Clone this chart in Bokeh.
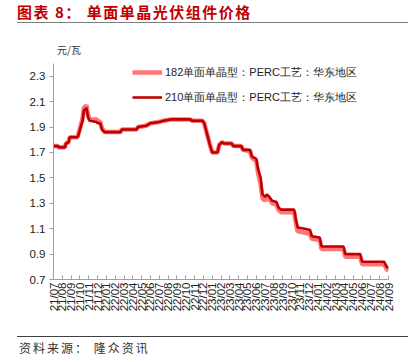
import math
from bokeh.plotting import figure
from bokeh.models import Legend, LegendItem, FixedTicker, Range1d, Div, AllLabels
from bokeh.layouts import column
from bokeh.embed import file_html
from bokeh.resources import INLINE

# month labels (one per month, 2021/07 .. 2024/09)
month_labels = ["21/07", "21/08", "21/09", "21/10", "21/11", "21/12",
                "22/01", "22/02", "22/03", "22/04", "22/05", "22/06",
                "22/07", "22/08", "22/09", "22/10", "22/11", "22/12",
                "23/01", "23/02", "23/03", "23/04", "23/05", "23/06",
                "23/07", "23/08", "23/09", "23/10", "23/11", "23/12",
                "24/01", "24/02", "24/03", "24/04", "24/05", "24/06",
                "24/07", "24/08", "24/09"]

# digitised observation positions (in months since 2021/07) and prices (元/瓦)
x_210 = [0, 0.5, 0.6, 1.3, 1.4, 1.7, 1.85, 2.7, 2.8, 3.0, 3.3, 3.45, 3.75, 3.9,
         4.1, 4.9, 5.0, 5.3, 5.5, 5.8, 7.6, 7.75, 9.4, 9.6, 10.5, 11.0, 12.0,
         12.5, 13.3, 15.5, 15.7, 16.9, 17.1, 17.4, 17.7, 18.0, 18.6, 18.8, 19.1,
         19.4, 20.2, 20.4, 21.3, 21.5, 22.3, 22.5, 23.0, 23.2, 23.5, 23.7, 24.0,
         24.2, 24.5, 24.8, 25.3, 25.5, 25.8, 27.3, 27.5, 27.7, 28.5, 29.1, 29.3,
         30.2, 30.4, 32.9, 33.1, 34.8, 35.0, 37.5, 37.8, 38.0]
y_210 = [1.75, 1.75, 1.74, 1.74, 1.77, 1.78, 1.82, 1.82, 1.83, 1.88, 1.95, 2.03,
         2.05, 1.98, 1.95, 1.94, 1.93, 1.93, 1.88, 1.86, 1.86, 1.88, 1.88, 1.90,
         1.91, 1.93, 1.94, 1.95, 1.96, 1.96, 1.95, 1.95, 1.93, 1.85, 1.77, 1.70,
         1.70, 1.76, 1.78, 1.77, 1.77, 1.75, 1.75, 1.72, 1.72, 1.67, 1.65, 1.57,
         1.50, 1.37, 1.35, 1.37, 1.35, 1.32, 1.31, 1.27, 1.25, 1.25, 1.17, 1.11,
         1.10, 1.09, 1.04, 1.03, 0.96, 0.96, 0.90, 0.90, 0.84, 0.84, 0.80, 0.79]

x_182 = x_210
y_182 = [1.75, 1.75, 1.74, 1.74, 1.77, 1.78, 1.82, 1.82, 1.84, 1.89, 1.97, 2.05,
         2.07, 2.00, 1.96, 1.96, 1.95, 1.94, 1.89, 1.86, 1.86, 1.88, 1.88, 1.90,
         1.91, 1.93, 1.94, 1.95, 1.96, 1.96, 1.95, 1.95, 1.93, 1.85, 1.77, 1.70,
         1.70, 1.76, 1.78, 1.77, 1.77, 1.75, 1.75, 1.72, 1.71, 1.66, 1.63, 1.54,
         1.45, 1.34, 1.32, 1.35, 1.33, 1.30, 1.29, 1.25, 1.23, 1.23, 1.14, 1.08,
         1.07, 1.06, 1.02, 1.01, 0.94, 0.94, 0.88, 0.88, 0.82, 0.82, 0.78, 0.77]

y_ticks = [0.7, 0.9, 1.1, 1.3, 1.5, 1.7, 1.9, 2.1, 2.3]

name_182 = "182单面单晶型：PERC工艺：华东地区"
name_210 = "210单面单晶型：PERC工艺：华东地区"
title_text = "图表 8： 单面单晶光伏组件价格"
unit_text = "元/瓦"
source_text = "资料来源： 隆众资讯"

CJK = "'Noto Sans CJK SC'"

head = Div(width=413, height=56, margin=0, text=(
    '<div style="position:relative;width:413px;height:56px;">'
    f'<div style="position:absolute;left:17px;top:2px;font-family:{CJK};font-size:15px;'
    'font-weight:bold;letter-spacing:1.5px;color:#C00000;line-height:19px;white-space:nowrap;">'
    f'{title_text}</div>'
    '<div style="position:absolute;left:17px;top:22px;width:391px;height:0;'
    'border-top:1.5px solid #7F7F7F;"></div>'
    f'<div style="position:absolute;left:57px;top:43px;font-family:{CJK};font-size:10px;'
    f'color:#333333;line-height:14px;white-space:nowrap;">{unit_text}</div>'
    '</div>'))

foot = Div(width=413, height=26, margin=0, text=(
    '<div style="position:relative;width:413px;height:26px;">'
    '<div style="position:absolute;left:17px;top:0px;width:391px;height:0;'
    'border-top:1.5px solid #404040;"></div>'
    f'<div style="position:absolute;left:19px;top:4px;font-family:{CJK};font-size:12px;'
    f'letter-spacing:2px;color:#333333;line-height:16px;white-space:nowrap;">{source_text}</div>'
    '</div>'))

p = figure(width=413, height=280, frame_width=335, frame_height=216,
           output_backend="svg", toolbar_location=None,
           x_range=Range1d(0, 38), y_range=Range1d(0.7, 2.4),
           min_border_left=53, min_border_right=25, min_border_top=7,
           min_border_bottom=57, margin=0)
p.outline_line_color = None
p.xgrid.visible = False
p.ygrid.visible = False
p.background_fill_color = "white"
p.border_fill_color = "white"

r182 = p.line(x_182, y_182, line_color="#FF6E6E", line_width=4.5, line_alpha=0.95)
r210 = p.line(x_210, y_210, line_color="#C00000", line_width=2.6)

ax = p.xaxis[0]
ax.ticker = FixedTicker(ticks=list(range(len(month_labels))))
ax.major_label_overrides = {i: s for i, s in enumerate(month_labels)}
ax.major_label_orientation = math.pi / 2
ax.major_label_policy = AllLabels()
ax.major_tick_in = 4
ax.major_tick_out = 0
ax.minor_tick_line_color = None
ax.axis_line_color = "#A0A0A0"
ax.major_tick_line_color = "#A0A0A0"
ax.major_label_text_font = "Liberation Sans"
ax.major_label_text_font_size = "11.5px"
ax.major_label_text_color = "#222222"
ax.major_label_standoff = 3

ay = p.yaxis[0]
ay.ticker = FixedTicker(ticks=y_ticks)
ay.major_tick_in = 0
ay.major_tick_out = 4
ay.minor_tick_line_color = None
ay.axis_line_color = "#A0A0A0"
ay.major_tick_line_color = "#A0A0A0"
ay.major_label_text_font = "Liberation Sans"
ay.major_label_text_font_size = "11.5px"
ay.major_label_text_color = "#222222"
ay.major_label_standoff = 4

legend = Legend(items=[LegendItem(label=name_182, renderers=[r182]),
                       LegendItem(label=name_210, renderers=[r210])],
                location=(79, 172), border_line_color=None,
                background_fill_alpha=0, padding=0, margin=0, spacing=5,
                glyph_width=30, glyph_height=20, label_height=20,
                label_standoff=3, label_text_font="Liberation Sans",
                label_text_font_size="11px", label_text_color="#222222")
p.add_layout(legend)

layout = column(head, p, foot, spacing=0, margin=0)
open("out.html", "w").write(file_html(layout, INLINE))
